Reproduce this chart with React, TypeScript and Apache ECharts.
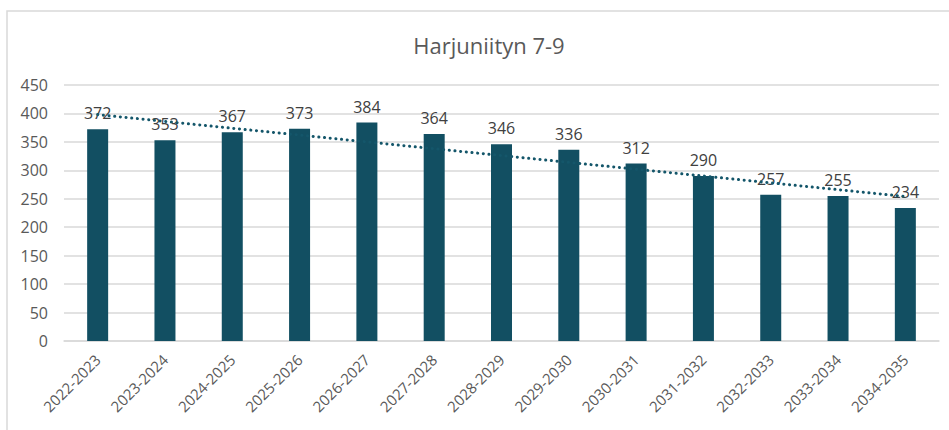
import React, { useEffect, useRef } from "react";
import * as echarts from "echarts";

const TITLE = "Harjuniityn 7-9";
const categories = [
  "2022-2023", "2023-2024", "2024-2025", "2025-2026", "2026-2027", "2027-2028", "2028-2029",
  "2029-2030", "2030-2031", "2031-2032", "2032-2033", "2033-2034", "2034-2035",
];
const values = [372, 353, 367, 373, 384, 364, 346, 336, 312, 290, 257, 255, 234];
// linear trendline endpoints (first and last category)
const trendStart = 398;
const trendEnd = 254;

const FONT = "'Open Sans', 'Noto Sans', sans-serif";

export default function App() {
  const ref = useRef<HTMLDivElement>(null);
  useEffect(() => {
    document.body.style.margin = "0";
    const chart = echarts.init(ref.current!, null, { renderer: "svg" });
    const trend = categories.map((_, i) =>
      i === 0 ? trendStart : i === categories.length - 1 ? trendEnd : null
    );
    chart.setOption({
      animation: false,
      backgroundColor: "#ffffff",
      textStyle: { fontFamily: FONT },
      title: {
        text: TITLE,
        left: 484,
        textAlign: "center",
        top: 29,
        textStyle: { fontFamily: FONT, fontSize: 22, fontWeight: "normal", color: "#595959" },
      },
      graphic: [
        {
          type: "rect",
          shape: { x: 7, y: 11, width: 980, height: 440 },
          style: { fill: "none", stroke: "#d9d9d9", lineWidth: 1.5 },
          z: -1,
        },
      ],
      grid: { left: 64, right: 10, top: 85, bottom: 89, containLabel: false },
      xAxis: {
        type: "category",
        data: categories,
        axisLine: { show: true, lineStyle: { color: "#d9d9d9", width: 1.5 } },
        axisTick: { show: false },
        axisLabel: {
          rotate: 45,
          interval: 0,
          margin: 16,
          color: "#595959",
          fontSize: 15,
          fontFamily: FONT,
        },
      },
      yAxis: {
        type: "value",
        min: 0,
        max: 450,
        interval: 50,
        axisLine: { show: false },
        axisTick: { show: false },
        splitLine: { lineStyle: { color: "#d9d9d9", width: 1.5 } },
        axisLabel: { color: "#595959", fontSize: 16, margin: 16, fontFamily: FONT },
      },
      series: [
        {
          type: "bar",
          data: values,
          barWidth: 21,
          itemStyle: { color: "#124F62" },
          label: {
            show: true,
            position: "top",
            distance: 8,
            color: "#404040",
            fontSize: 16,
            fontFamily: FONT,
          },
        },
        {
          type: "line",
          data: trend,
          connectNulls: true,
          symbol: "none",
          silent: true,
          z: 3,
          lineStyle: { color: "#14566A", width: 3, type: [0.1, 5.6], cap: "round" },
        },
      ],
    });
    return () => chart.dispose();
  }, []);
  return <div ref={ref} style={{ width: 949, height: 430 }} />;
}
